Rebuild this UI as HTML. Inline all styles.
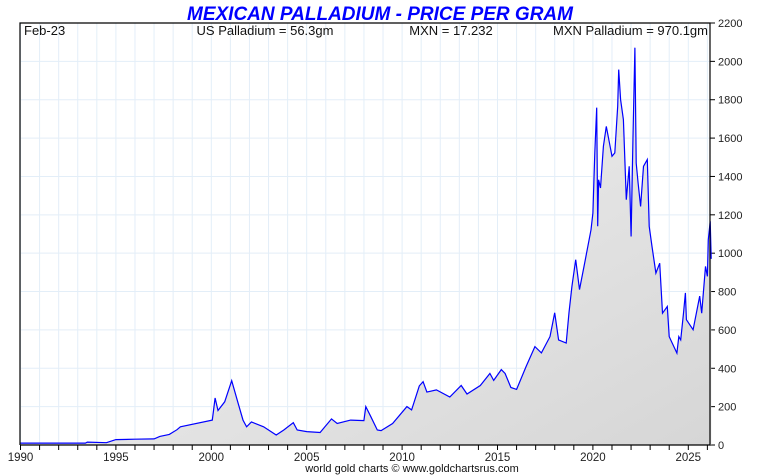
<!DOCTYPE html>
<html><head><meta charset="utf-8"><style>
body{margin:0;background:#fff}
svg{display:block;font-family:"Liberation Sans",sans-serif}
</style></head><body>
<svg id="c" width="760" height="475"></svg>
<script>
const years=[1990,1993.4,1993.5,1994.5,1995,1996,1997,1997.3,1997.8,1998.2,1998.38,2000.05,2000.2,2000.35,2000.7,2001.07,2001.4,2001.66,2001.85,2002.1,2002.74,2003.4,2003.8,2004.3,2004.5,2005.0,2005.7,2006.3,2006.6,2007.3,2008.0,2008.1,2008.35,2008.7,2008.9,2009.5,2010.25,2010.5,2010.9,2011.1,2011.3,2011.8,2012.5,2013.1,2013.4,2014.1,2014.6,2014.8,2015.2,2015.4,2015.7,2016.0,2016.5,2016.96,2017.3,2017.75,2018.0,2018.2,2018.6,2018.75,2018.9,2019.1,2019.3,2019.6,2019.9,2020.0,2020.1,2020.2,2020.25,2020.3,2020.4,2020.55,2020.7,2021.0,2021.15,2021.3,2021.35,2021.45,2021.6,2021.75,2021.9,2022.0,2022.1,2022.2,2022.27,2022.37,2022.5,2022.65,2022.85,2022.95,2023.1,2023.3,2023.5,2023.65,2023.9,2024.0,2024.4,2024.5,2024.6,2024.75,2024.85,2024.9,2025.25,2025.6,2025.7,2025.9,2026.0,2026.05,2026.15,2026.2];
const prices=[10,10,15,12,28,30,32,45,55,80,95,130,245,180,225,335,220,130,95,120,95,52,78,116,78,70,65,136,112,130,127,200,150,78,75,112,200,183,308,330,276,287,250,310,266,310,373,337,393,373,300,290,409,513,480,565,689,548,532,690,826,966,810,966,1122,1209,1523,1759,1140,1383,1340,1557,1661,1505,1523,1766,1957,1800,1696,1279,1453,1087,1609,2071,1470,1366,1244,1453,1488,1140,1035,896,948,687,722,565,479,565,548,687,793,653,601,776,687,931,879,1070,1166,970];
const yTicks=[0,200,400,600,800,1000,1200,1400,1600,1800,2000,2200];
const xLabels=[1990,1995,2000,2005,2010,2015,2020,2025];
const L=20,R=710,T=23,B=445,X0=1990,PX=19.08;
const xs=y=>L+0.5+(y-X0)*PX, ys=v=>B-(v/2200)*(B-T);
const NS="http://www.w3.org/2000/svg",svg=document.getElementById('c');
function mk(t,a,p){const e=document.createElementNS(NS,t);for(const k in a)e.setAttribute(k,a[k]);(p||svg).appendChild(e);return e;}
const defs=mk('defs',{});
const g=mk('linearGradient',{id:'fg',x1:0,y1:0,x2:1,y2:1},defs);
mk('stop',{offset:'0','stop-color':'#f6f6f6'},g);mk('stop',{offset:'1','stop-color':'#d6d6d6'},g);
for(let y=1990;y<=2026;y++){const l=mk('line',{x1:xs(y),x2:xs(y),y1:T,y2:B,stroke:'#e3eef8','stroke-width':1});

const t=mk('line',{x1:xs(y),x2:xs(y),y1:B,y2:B+5,stroke:'#000'});}
yTicks.forEach(v=>{const l=mk('line',{x1:L,x2:R,y1:ys(v),y2:ys(v),stroke:'#e3eef8'});

const t=mk('line',{x1:R,x2:R+5,y1:ys(v),y2:ys(v),stroke:'#000'});
const tx=mk('text',{x:R+8,y:ys(v)+4,'font-size':11,fill:'#222'});tx.textContent=v;
});
xLabels.forEach(y=>{const tx=mk('text',{x:xs(y),y:461,'font-size':11.5,'text-anchor':'middle',fill:'#222'});tx.textContent=y;
});
let pts=years.map((y,i)=>xs(y).toFixed(1)+','+ys(prices[i]).toFixed(1));
const area=mk('path',{d:'M'+xs(years[0])+','+B+' L'+pts.join(' L')+' L'+xs(years[years.length-1])+','+B+' Z',fill:'url(#fg)'});

const line=mk('polyline',{points:pts.join(' '),fill:'none',stroke:'#0000ff','stroke-width':1.2});

const fr=mk('path',{d:`M${L},${B} V${T} H${R} V${B} H${L}`,fill:'none',stroke:'#000','stroke-width':1.2});

function txt(s,x,y,a,name,fs,extra){const t=mk('text',Object.assign({x:x,y:y,'text-anchor':a,'font-size':fs,fill:'#111'},extra||{}));t.textContent=s;
}
txt('MEXICAN PALLADIUM - PRICE PER GRAM',380,20,'middle','chart-title',19,{fill:'#0000ff','font-style':'italic','font-weight':'bold'});
txt('Feb-23',24,35,'start','date-label',13);
txt('US Palladium = 56.3gm',265,35,'middle','us-palladium-label',13);
txt('MXN = 17.232',451,35,'middle','mxn-rate-label',13);
txt('MXN Palladium = 970.1gm',708,35,'end','mxn-palladium-label',13);
txt('world gold charts © www.goldchartsrus.com',412,472,'middle','footer-credit',11);
</script></body></html>
